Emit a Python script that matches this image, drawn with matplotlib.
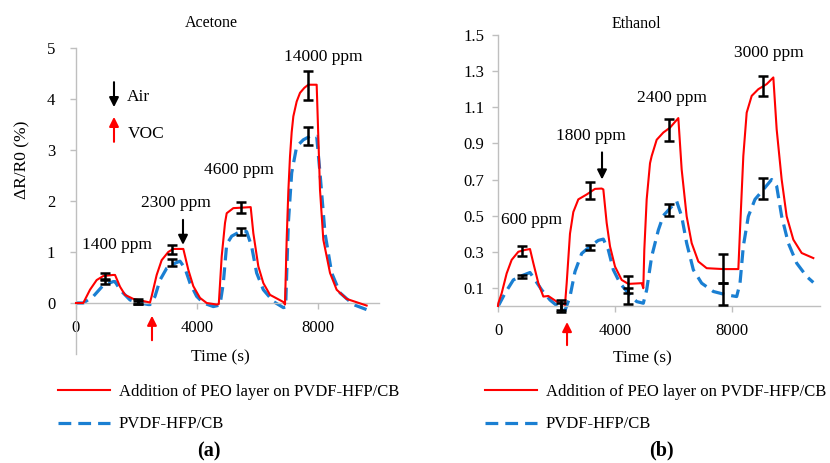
import matplotlib
matplotlib.use("Agg")
import matplotlib.pyplot as plt

plt.rcParams['font.family'] = ['Liberation Serif', 'DejaVu Serif']

# ---------------- data: Acetone ----------------
ac_red_t = [0, 240, 463, 683, 904, 1234, 1290, 1455, 1620, 1895, 2170, 2446, 2500, 2667, 2832, 3050,
            3217, 3548, 3713, 3878, 4099, 4320, 4650, 4720, 4816, 4926, 4982, 5200, 5775, 5862, 6027,
            6193, 6413, 6854, 6909, 6964, 7020, 7074, 7130, 7185, 7295, 7405, 7550, 7680, 7956, 8066,
            8176, 8397, 8617, 8947, 9608]
ac_red_v = [0, 0, 0.26, 0.45, 0.53, 0.55, 0.55, 0.32, 0.16, 0.08, 0.045, 0.01, 0.13, 0.55, 0.84, 1.0,
            1.06, 1.06, 0.65, 0.33, 0.10, 0.0, -0.03, -0.02, 0.91, 1.57, 1.76, 1.86, 1.88, 1.37, 0.72,
            0.39, 0.16, 0.02, -0.03, 1.24, 2.20, 2.87, 3.35, 3.66, 3.95, 4.12, 4.22, 4.28, 4.28, 2.22,
            1.24, 0.59, 0.26, 0.08, -0.05]

ac_blue_t = [0, 240, 573, 904, 1234, 1290, 1455, 1785, 2116, 2391, 2450, 2612, 2777, 2997, 3273, 3438,
             3603, 3769, 3989, 4210, 4540, 4760, 4870, 4981, 5146, 5421, 5641, 5806, 5971, 6193, 6523,
             6854, 6930, 7020, 7130, 7295, 7515, 7736, 7956, 8066, 8231, 8452, 8727, 9168, 9608]
ac_blue_v = [0, 0, 0.13, 0.35, 0.42, 0.42, 0.26, 0.06, 0.0, -0.03, -0.03, 0.13, 0.45, 0.68, 0.78, 0.82,
             0.68, 0.39, 0.13, 0.0, -0.07, -0.04, 0.39, 1.15, 1.31, 1.40, 1.40, 1.11, 0.59, 0.26, 0.03,
             -0.09, -0.08, 1.57, 2.55, 3.07, 3.20, 3.27, 3.27, 2.55, 1.37, 0.59, 0.20, -0.03, -0.13]

ac_eb_t = [959, 2060, 3160, 5443, 7658]
ac_eb_red = [0.52, 0.03, 1.05, 1.875, 4.27]
ac_eb_red_err = [0.06, 0.04, 0.09, 0.115, 0.28]
ac_eb_blue = [0.42, 0.01, 0.80, 1.40, 3.28]
ac_eb_blue_err = [0.05, 0.03, 0.07, 0.07, 0.18]

ac_labels = ["1400 ppm", "2300 ppm", "4600 ppm", "14000 ppm"]
ac_label_t = [1355, 3306, 5388, 8165]
ac_label_v = [1.14, 1.96, 2.60, 4.82]

# ---------------- data: Ethanol ----------------
et_red_t = [0, 11, 125, 296, 467, 695, 923, 1094, 1208, 1379, 1550, 1721, 2006, 2290, 2348, 2461, 2575,
            2746, 3031, 3316, 3544, 3601, 3715, 3829, 4000, 4228, 4456, 4912, 4968, 5002, 5083, 5197,
            5254, 5425, 5652, 5880, 6165, 6279, 6450, 6621, 6849, 7134, 7704, 8217, 8274, 8387, 8502,
            8673, 8900, 9185, 9413, 9527, 9698, 9869, 10097, 10382, 10780]
et_red_v = [0, 0.015, 0.07, 0.18, 0.255, 0.30, 0.31, 0.315, 0.237, 0.126, 0.052, 0.055, 0.024, 0.006,
            0.126, 0.40, 0.52, 0.59, 0.617, 0.648, 0.65, 0.645, 0.46, 0.33, 0.218, 0.144, 0.122, 0.126,
            0.098, 0.31, 0.59, 0.79, 0.83, 0.92, 0.96, 0.987, 1.04, 0.756, 0.496, 0.348, 0.246, 0.209,
            0.204, 0.204, 0.42, 0.83, 1.07, 1.163, 1.20, 1.228, 1.265, 0.978, 0.70, 0.496, 0.367, 0.293,
            0.265]

et_blue_t = [0, 11, 239, 524, 809, 1094, 1265, 1493, 1778, 2120, 2290, 2461, 2632, 2860, 3145, 3430,
             3601, 3772, 3943, 4171, 4456, 4741, 4968, 5083, 5254, 5482, 5652, 5880, 6108, 6279, 6450,
             6678, 6963, 7362, 7818, 8160, 8274, 8387, 8558, 8786, 9071, 9356, 9527, 9698, 9925, 10211,
             10553, 10780]
et_blue_v = [0, 0, 0.07, 0.144, 0.167, 0.185, 0.144, 0.089, 0.033, -0.013, -0.026, 0.052, 0.19, 0.29,
             0.33, 0.363, 0.37, 0.31, 0.20, 0.126, 0.07, 0.024, 0.015, 0.089, 0.274, 0.42, 0.50, 0.54,
             0.58, 0.496, 0.348, 0.20, 0.126, 0.08, 0.061, 0.052, 0.126, 0.33, 0.496, 0.59, 0.644, 0.70,
             0.663, 0.496, 0.348, 0.237, 0.163, 0.13]

et_eb_t = [831, 2143, 3145, 4456, 5846, 7704, 9048]
et_eb_red = [0.305, 0.005, 0.64, 0.12, 0.973, 0.207, 1.218]
et_eb_red_err = [0.028, 0.03, 0.046, 0.046, 0.06, 0.08, 0.055]
et_eb_blue = [0.163, -0.01, 0.325, 0.055, 0.53, 0.066, 0.65]
et_eb_blue_err = [0.01, 0.025, 0.014, 0.044, 0.032, 0.06, 0.06]

et_labels = ["600 ppm", "1800 ppm", "2400 ppm", "3000 ppm"]
et_label_t = [1162, 3180, 5950, 9265]
et_label_v = [0.478, 0.94, 1.15, 1.40]

series_names = ["Addition of PEO layer on PVDF-HFP/CB", "PVDF-HFP/CB"]

RED = '#ff0000'
BLUE = '#1a7fd2'
SPINE = '#bfbfbf'
FS = 11.5
FT = 12

W, H = 830, 463
fig = plt.figure(figsize=(W / 100, H / 100), dpi=100)

axa = fig.add_axes([76 / W, 1 - 354 / H, 302.5 / W, 306 / H])
axb = fig.add_axes([498 / W, 1 - 324 / H, 321.75 / W, 289 / H])


def style(ax, xlim, ylim, yticks, ylabels, spine_bounds, ypad):
    ax.set_xlim(*xlim)
    ax.set_ylim(*ylim)
    for s in ['top', 'right']:
        ax.spines[s].set_visible(False)
    ax.spines['bottom'].set_position(('data', 0))
    for s in ['left', 'bottom']:
        ax.spines[s].set_color(SPINE)
        ax.spines[s].set_linewidth(1.0)
    ax.spines['left'].set_bounds(*spine_bounds)
    ax.set_xticks([0, 4000, 8000])
    ax.set_xticklabels(['0', '4000', '8000'])
    ax.set_yticks(yticks)
    ax.set_yticklabels(ylabels)
    ax.tick_params(axis='both', colors=SPINE, labelcolor='black', labelsize=FT,
                   length=4, width=1.0, direction='out')
    ax.tick_params(axis='x', pad=8)
    ax.tick_params(axis='y', pad=ypad)
    ax.patch.set_alpha(0)


def draw(ax, rt, rv, bt, bv, ebt, ebr, ebre, ebb, ebbe):
    lr, = ax.plot(rt, rv, color=RED, lw=1.5, zorder=3, clip_on=False)
    lb, = ax.plot(bt, bv, color=BLUE, lw=2.3, zorder=2, clip_on=False)
    lb.set_dashes((4, 2.2))
    for y, e in ((ebr, ebre), (ebb, ebbe)):
        ax.errorbar(ebt, y, yerr=e, fmt='none', ecolor='black', elinewidth=1.8,
                    capsize=3.3, capthick=1.8, zorder=5, clip_on=False)
    return lr, lb


style(axa, (0, 10000), (-1, 5), [0, 1, 2, 3, 4, 5], ['0', '1', '2', '3', '4', '5'], (-1, 5), 11)
style(axb, (0, 11000), (-0.1, 1.5), [0.1, 0.3, 0.5, 0.7, 0.9, 1.1, 1.3, 1.5],
      ['0.1', '0.3', '0.5', '0.7', '0.9', '1.1', '1.3', '1.5'], (0, 1.5), 6)

ha = draw(axa, ac_red_t, ac_red_v, ac_blue_t, ac_blue_v, ac_eb_t, ac_eb_red, ac_eb_red_err,
          ac_eb_blue, ac_eb_blue_err)
hb = draw(axb, et_red_t, et_red_v, et_blue_t, et_blue_v, et_eb_t, et_eb_red, et_eb_red_err,
          et_eb_blue, et_eb_blue_err)

for ax, labs, lt, lv in ((axa, ac_labels, ac_label_t, ac_label_v), (axb, et_labels, et_label_t, et_label_v)):
    for s, t, v in zip(labs, lt, lv):
        ax.text(t, v, s, ha='center', va='center', fontsize=12.5)


def arrow(ax, t, tail, tip, color):
    ax.annotate('', xy=(t, tip), xytext=(t, tail), annotation_clip=False,
                arrowprops=dict(arrowstyle='-|>', color=color, lw=1.5, mutation_scale=14,
                                shrinkA=0, shrinkB=0))


# panel a arrows and notes
arrow(axa, 1256, 4.33, 3.84, 'black')
arrow(axa, 1256, 3.16, 3.65, RED)
axa.text(1686, 4.04, 'Air', ha='left', va='center', fontsize=12.5)
axa.text(1719, 3.31, 'VOC', ha='left', va='center', fontsize=12.5)
arrow(axa, 3537, 1.63, 1.14, 'black')
arrow(axa, 2512, -0.73, -0.25, RED)

# panel b arrows
arrow(axb, 3556, 0.85, 0.70, 'black')
arrow(axb, 2360, -0.217, -0.089, RED)

# titles and axis labels
axa.text(0.446, 1.0817, 'Acetone', transform=axa.transAxes, ha='center', va='center', fontsize=FS)
axb.text(0.429, 1.038, 'Ethanol', transform=axb.transAxes, ha='center', va='center', fontsize=FS)
axa.set_xlabel('Time (s)', fontsize=12.5)
axa.xaxis.set_label_coords(0.476, -0.0098)
axa.xaxis.label.set_va('center')
axb.set_xlabel('Time (s)', fontsize=12.5)
axb.xaxis.set_label_coords(0.4476, -0.1176)
axb.xaxis.label.set_va('center')
axa.set_ylabel('ΔR/R0 (%)', fontsize=12.5)
axa.yaxis.set_label_coords(-0.1785, 0.634)
axa.yaxis.label.set_va('center')

# legends
for handles, x0 in ((ha, 58), (hb, 485)):
    fig.legend(handles, series_names, loc='center left',
               bbox_to_anchor=(x0 / W, 1 - 408 / H), bbox_transform=fig.transFigure,
               frameon=False, fontsize=12, handlelength=3.1, handletextpad=0.55,
               labelspacing=1.0, borderpad=0, borderaxespad=0)

fig.text(209 / W, 1 - 451 / H, '(a)', ha='center', va='center', fontsize=14.5, fontweight='bold')
fig.text(661 / W, 1 - 450 / H, '(b)', ha='center', va='center', fontsize=14.5, fontweight='bold')

fig.savefig('out.png', dpi=100)
